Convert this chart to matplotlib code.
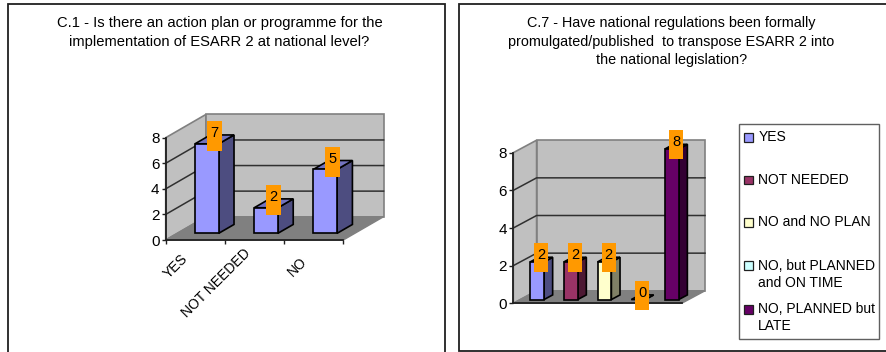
#!/usr/bin/env python3
"""Two survey panels on ESARR 2 drawn as pseudo-3D column charts."""
import matplotlib
matplotlib.use('Agg')
import matplotlib.pyplot as plt
from matplotlib.patches import Polygon, Rectangle
from matplotlib.transforms import ScaledTranslation

W, H = 886, 352

title_c1 = 'C.1 - Is there an action plan or programme for the\nimplementation of ESARR 2 at national level?'
cats_c1 = ['YES', 'NOT NEEDED', 'NO']
vals_c1 = [7, 2, 5]

title_c7 = ('C.7 - Have national regulations been formally\n'
            'promulgated/published  to transpose ESARR 2 into\n'
            'the national legislation?')
cats_c7 = ['YES', 'NOT NEEDED', 'NO and NO PLAN', 'NO, but PLANNED\nand ON TIME', 'NO, PLANNED but\nLATE']
vals_c7 = [2, 2, 2, 0, 8]

yticks = [0, 2, 4, 6, 8]

# front, side and top shades per series
purple = ('#9999FF', '#4D4D80', '#7373BF')
wine = ('#993366', '#4D1933', '#732650')
cream = ('#FFFFCC', '#808066', '#BFBF99')
aqua = ('#CCFFFF', '#668080', '#99BFBF')
plum = ('#660066', '#330033', '#4D004D')

plt.rcParams['font.family'] = ['Liberation Sans', 'DejaVu Sans']


def px_axes(fig, x0, x1, ytop, ybot):
    return fig.add_axes([x0/W, 1-ybot/H, (x1-x0)/W, (ybot-ytop)/H])


def column_chart(fig, rect, vals, colors, depth_px, bar_depth, bar_front, bar_w, box):
    x0, x1, ytop, ybot = rect
    ax = px_axes(fig, x0, x1, ytop, ybot)
    n = len(vals)
    ax.set_xlim(0, n)
    ax.set_ylim(0, 8)
    ax.patch.set_visible(False)
    ux = (x1-x0)/n
    uy = (ybot-ytop)/8
    dx = depth_px[0]/ux
    dy = depth_px[1]/uy

    def sh(x, y, d):
        # shear a point back by depth fraction d
        return (x+d*dx, y+d*dy)

    def poly(pts, fc, ec='k', lw=1.2, z=2):
        ax.add_patch(Polygon(pts, closed=True, fc=fc, ec=ec, lw=lw, zorder=z, clip_on=False, joinstyle='miter'))

    # walls and floor
    wall_ec = '#808080'
    poly([sh(0, 0, 0), sh(0, 8, 0), sh(0, 8, 1), sh(0, 0, 1)], '#C0C0C0', wall_ec, 1.2, 1)
    poly([sh(0, 0, 1), sh(0, 8, 1), sh(n, 8, 1), sh(n, 0, 1)], '#C0C0C0', wall_ec, 1.2, 1)
    poly([sh(0, 0, 0), sh(n, 0, 0), sh(n, 0, 1), sh(0, 0, 1)], '#808080', wall_ec, 1.0, 1)

    # gridlines on the side and back walls
    for v in yticks[1:-1]:
        a, b, c = sh(0, v, 0), sh(0, v, 1), sh(n, v, 1)
        ax.plot([a[0], b[0], c[0]], [a[1], b[1], c[1]], color='#303030', lw=1.1, zorder=1.5, clip_on=False)

    # columns
    d0, d1 = bar_front, bar_front+bar_depth
    for i, v in enumerate(vals):
        l, r = i+0.5-bar_w/2, i+0.5+bar_w/2
        c = colors[i]
        poly([sh(r, 0, d0), sh(r, v, d0), sh(r, v, d1), sh(r, 0, d1)], c[1], z=3)
        poly([sh(l, v, d0), sh(r, v, d0), sh(r, v, d1), sh(l, v, d1)], c[2], z=3)
        if v > 0:
            poly([sh(l, 0, d0), sh(r, 0, d0), sh(r, v, d0), sh(l, v, d0)], c[0], z=3)

    # value labels on orange tags above the column tops
    bw, bh, lift = box
    for i, v in enumerate(vals):
        cx, cy = sh(i+0.5, v, d0)
        cx += 0.5*bar_depth*dx
        cy += lift/uy
        ax.add_patch(Rectangle((cx-bw/ux/2, cy-bh/uy/2), bw/ux, bh/uy, fc='#FF9900', ec='none', zorder=5, clip_on=False))
        ax.text(cx, cy+3/uy, str(v), ha='center', va='center', fontsize=10.5, color='k', zorder=6, clip_on=False)

    for s in ('top', 'right'):
        ax.spines[s].set_visible(False)
    for s in ('left', 'bottom'):
        ax.spines[s].set_linewidth(1.3)
        ax.spines[s].set_color('#202020')
        ax.spines[s].set_zorder(4)
    ax.set_yticks(yticks)
    ax.tick_params(axis='y', length=3, width=1, labelsize=11, pad=1.5, color='#202020')
    return ax


def draw_frames(fig):
    bg = fig.add_axes([0, 0, 1, 1])
    bg.set_xlim(0, W)
    bg.set_ylim(H, 0)
    bg.axis('off')
    bg.add_patch(Rectangle((8, 4), 437.5, 360, fc='white', ec='#202020', lw=1.3))
    bg.add_patch(Rectangle((459.5, 4), 430, 347.3, fc='white', ec='#202020', lw=1.3))
    return bg


fig = plt.figure(figsize=(W/100, H/100), dpi=100, facecolor='white')
bg = draw_frames(fig)

bg.text(219.5, 32.5, title_c1, ha='center', va='center', fontsize=10.6, linespacing=1.4, color='k')
bg.text(671.5, 41.7, title_c7, ha='center', va='center', fontsize=10.4, linespacing=1.43, color='k')

# left panel
ax1 = column_chart(fig, (165.7, 343.3, 137.7, 240), vals_c1, [purple]*3,
                   (40.3, 23.3), 0.38, 0.287, 0.40, (15, 30, 7.5))
ax1.set_xticks([0, 1, 2, 3])
ax1.set_xticklabels([])
ax1.tick_params(axis='x', length=3, width=1, color='#202020')
ax1.set_xticks([0.5, 1.5, 2.5], cats_c1, minor=True)
ax1.tick_params(axis='x', which='minor', length=0, pad=5, labelsize=10)
# rotated labels sit left of their slots; the long one rides a little higher
label_shift_px = [(-15, -5), (-11, 1), (-14, -8)]
for t, (sx, sy) in zip(ax1.get_xticklabels(minor=True), label_shift_px):
    t.set_rotation(45)
    t.set_ha('right')
    t.set_rotation_mode('anchor')
    t.set_transform(t.get_transform() + ScaledTranslation(sx/100, sy/100, fig.dpi_scale_trans))

# right panel
ax2 = column_chart(fig, (513.3, 681.7, 152.7, 303.3), vals_c7,
                   [purple, wine, cream, aqua, plum],
                   (23.3, 12.5), 0.37, 0.30, 0.41, (14, 29, 4))
ax2.set_xticks([])

# legend box
bg.add_patch(Rectangle((738.7, 124.3), 140.6, 214.4, fc='white', ec='#606060', lw=1.0))
legend_y = [137.3, 180, 222.7, 265.7, 309.3]
legend_fc = [purple[0], wine[0], cream[0], aqua[0], plum[0]]
for y, c, name in zip(legend_y, legend_fc, cats_c7):
    bg.add_patch(Rectangle((744, y-4.3), 8.7, 8.7, fc=c, ec='#202020', lw=0.9))
    bg.text(758.3, y-0.5 if '\n' not in name else y+8.5, name, ha='left', va='center', fontsize=10, linespacing=1.3)

fig.savefig('out.png', dpi=100)
